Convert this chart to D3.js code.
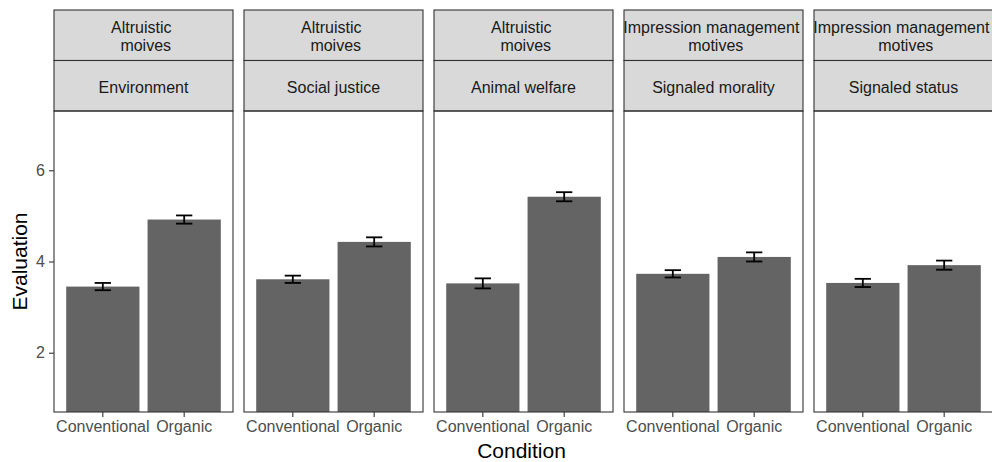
<!DOCTYPE html>
<html>
<head>
<meta charset="utf-8">
<script src="https://cdn.jsdelivr.net/npm/d3@7"></script>
<style>
  body { margin: 0; background: #fff; }
  svg { display: block; font-family: "Liberation Sans", Arial, sans-serif; }
  text { white-space: pre; }
</style>
</head>
<body>
<svg></svg>
<script>
// data
const motives = ['Altruistic \n moives', 'Altruistic \n moives', 'Altruistic \n moives',
    'Impression management \n motives', 'Impression management \n motives'];
const outcomes = ['Environment', 'Social justice', 'Animal welfare', 'Signaled morality', 'Signaled status'];
const conditions = ['Conventional', 'Organic'];
const conventionalMeans = [3.45, 3.61, 3.52, 3.73, 3.53];
const organicMeans = [4.92, 4.43, 5.42, 4.10, 3.92];
const conventionalSE = [0.08, 0.08, 0.11, 0.08, 0.09];
const organicSE = [0.09, 0.10, 0.10, 0.10, 0.10];
const yTicks = [2, 4, 6];

// layout
const width = 992;
const height = 462;
const panelLeft = 54;
const panelWidth = 179;
const panelGap = 11;
const stripTop = 10;
const stripHeight = 50.5;
const panelTop = stripTop + 2 * stripHeight;
const panelBottom = 412;

const svg = d3.select('svg')
    .attr('width', width)
    .attr('height', height);

// scales
const y = d3.scaleLinear()
    .domain([0.7, 7.3])
    .range([panelBottom, panelTop]);

const x = d3.scaleBand()
    .domain(conditions)
    .range([0, panelWidth])
    .paddingInner(0.1)
    .paddingOuter(0.15);

const capWidth = x.bandwidth() * 0.2 / 0.9;

// y axis
const yAxis = svg.append('g')
    .attr('transform', `translate(${panelLeft}, 0)`)
    .call(d3.axisLeft(y).tickValues(yTicks).tickSize(5).tickPadding(4).tickFormat(d3.format('d')));
yAxis.select('.domain').remove();
yAxis.selectAll('line').attr('stroke', '#333').attr('stroke-width', 1.1);
yAxis.selectAll('text')
    .attr('fill', '#4d4d4d')
    .style('font-size', '16px')
    .style('font-family', '"Liberation Sans", Arial, sans-serif');

svg.append('text')
    .attr('transform', `translate(26.5, ${(panelTop + panelBottom) / 2}) rotate(-90)`)
    .attr('text-anchor', 'middle')
    .attr('fill', '#000')
    .style('font-size', '21px')
    .text('Evaluation');

svg.append('text')
    .attr('x', panelLeft + (5 * panelWidth + 4 * panelGap) / 2 - 2)
    .attr('y', 458)
    .attr('text-anchor', 'middle')
    .attr('fill', '#000')
    .style('font-size', '21px')
    .text('Condition');

// panels
outcomes.forEach((outcome, i) => {
    const g = svg.append('g')
        .attr('transform', `translate(${panelLeft + i * (panelWidth + panelGap)}, 0)`);

    const rows = [
        {label: motives[i], top: stripTop},
        {label: outcome, top: stripTop + stripHeight}
    ];

    rows.forEach(r => {
        g.append('rect')
            .attr('x', 0)
            .attr('y', r.top)
            .attr('width', panelWidth)
            .attr('height', stripHeight)
            .attr('fill', '#d9d9d9')
            .attr('stroke', '#333')
            .attr('stroke-width', 1.1);

        const lines = r.label.split('\n');
        const mid = r.top + stripHeight / 2;
        const lineGap = 18;
        lines.forEach((ln, k) => {
            g.append('text')
                .attr('x', panelWidth / 2)
                .attr('y', mid + (k - (lines.length - 1) / 2) * lineGap + 7)
                .attr('text-anchor', 'middle')
                .attr('fill', '#1a1a1a')
                .style('font-size', '16px')
                .text(ln);
        });
    });

    const bars = [
        {cond: conditions[0], mean: conventionalMeans[i], se: conventionalSE[i]},
        {cond: conditions[1], mean: organicMeans[i], se: organicSE[i]}
    ];

    g.selectAll('rect.bar')
        .data(bars).enter().append('rect')
        .attr('class', 'bar')
        .attr('x', d => x(d.cond))
        .attr('y', d => y(d.mean))
        .attr('width', x.bandwidth())
        .attr('height', d => y.range()[0] - y(d.mean))
        .attr('fill', '#646464');

    const err = g.selectAll('g.err')
        .data(bars).enter().append('g')
        .attr('class', 'err')
        .attr('stroke', '#000')
        .attr('stroke-width', 1.8);

    const cx = d => x(d.cond) + x.bandwidth() / 2;
    err.append('line')
        .attr('x1', cx).attr('x2', cx)
        .attr('y1', d => y(d.mean + d.se)).attr('y2', d => y(d.mean - d.se));
    err.append('line')
        .attr('x1', d => cx(d) - capWidth / 2).attr('x2', d => cx(d) + capWidth / 2)
        .attr('y1', d => y(d.mean + d.se)).attr('y2', d => y(d.mean + d.se));
    err.append('line')
        .attr('x1', d => cx(d) - capWidth / 2).attr('x2', d => cx(d) + capWidth / 2)
        .attr('y1', d => y(d.mean - d.se)).attr('y2', d => y(d.mean - d.se));

    // panel border
    g.append('rect')
        .attr('x', 0)
        .attr('y', panelTop)
        .attr('width', panelWidth)
        .attr('height', panelBottom - panelTop)
        .attr('fill', 'none')
        .attr('stroke', '#333')
        .attr('stroke-width', 1.1);

    // x axis
    const xAxis = g.append('g')
        .attr('transform', `translate(0, ${panelBottom})`)
        .call(d3.axisBottom(x).tickSize(5).tickPadding(4));
    xAxis.select('.domain').remove();
    xAxis.selectAll('line').attr('stroke', '#333').attr('stroke-width', 1.1);
    xAxis.selectAll('text')
        .attr('fill', '#4d4d4d')
        .style('font-size', '16px')
        .style('font-family', '"Liberation Sans", Arial, sans-serif');
});
</script>
</body>
</html>
